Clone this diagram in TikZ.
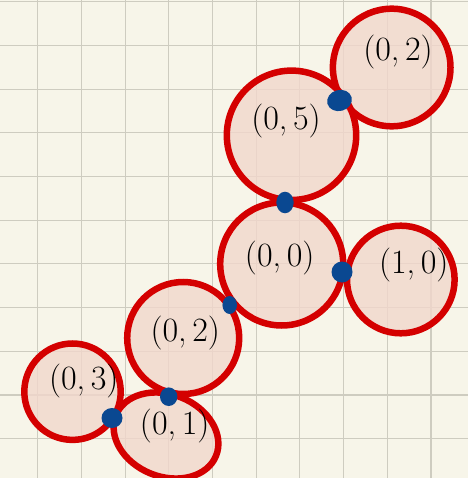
\documentclass[tikz,border=0pt]{standalone}
\usepackage{fontspec}
\usetikzlibrary{shapes.geometric}
\definecolor{bg}{RGB}{247,245,233}
\definecolor{gridc}{RGB}{206,204,192}
\definecolor{ringred}{RGB}{212,0,0}
\definecolor{pinkfill}{RGB}{241,215,204}
\definecolor{dotblue}{RGB}{10,72,145}
\begin{document}
\begin{tikzpicture}[x=1pt,y=-1pt,
  ring/.style={circle, draw=ringred, line width=6.5pt, fill=pinkfill, fill opacity=0.8, draw opacity=1, inner sep=0},
  lbl/.style={font=\fontsize{34}{40}\selectfont, inner sep=0},
  contact/.style={ellipse, fill=dotblue, inner sep=0}]
\fill[bg] (0,0) rectangle (468,478);
\useasboundingbox (0,0) rectangle (468,478);
\foreach \k in {0,...,9} \draw[gridc, line width=1.1pt] ({37.7+43.7*\k},0) -- ({37.7+43.7*\k},478);
\foreach \k in {0,...,10} \draw[gridc, line width=1.1pt] (0,{1.7+43.7*\k}) -- (468,{1.7+43.7*\k});
% circles
\node[ring, minimum size=117.6] (c02a) at (391.7,67.5) {};
\node[ring, minimum size=129.4] (c05) at (291.5,135.3) {};
\node[ring, minimum size=123] (c00) at (281.7,264) {};
\node[ring, minimum size=107.6] (c10) at (400.8,279.5) {};
\node[ring, minimum size=112] (c02b) at (183.2,338) {};
\node[ring, minimum size=96.4] (c03) at (72.5,391.7) {};
\node[ring, ellipse, minimum width=108, minimum height=82, rotate=-22] (c01) at (166,435.5) {};
% labels
\node[lbl] (t02a) at (398,51.7) {(0,\,2)};
\node[lbl] (t05) at (286,121) {(0,\,5)};
\node[lbl] (t00) at (279.7,258) {(0,\,0)};
\node[lbl] (t10) at (413.8,265) {(1,\,0)};
\node[lbl] (t02b) at (185.3,333) {(0,\,2)};
\node[lbl] (t03) at (83.8,381) {(0,\,3)};
\node[lbl] (t01) at (174.7,426) {(0,\,1)};
% contact dots
\node[contact, minimum width=25, minimum height=21, rotate=15] (d1) at (339.5,100.5) {};
\node[contact, minimum width=17.4, minimum height=21.6] (d2) at (285,202.5) {};
\node[contact, minimum width=21, minimum height=21] (d3) at (342,272) {};
\node[contact, minimum width=14.5, minimum height=18] (d4) at (229.7,305) {};
\node[contact, minimum width=17.4, minimum height=18.6] (d5) at (168.7,396.7) {};
\node[contact, minimum width=21, minimum height=20] (d6) at (112,418) {};
\end{tikzpicture}
\end{document}
